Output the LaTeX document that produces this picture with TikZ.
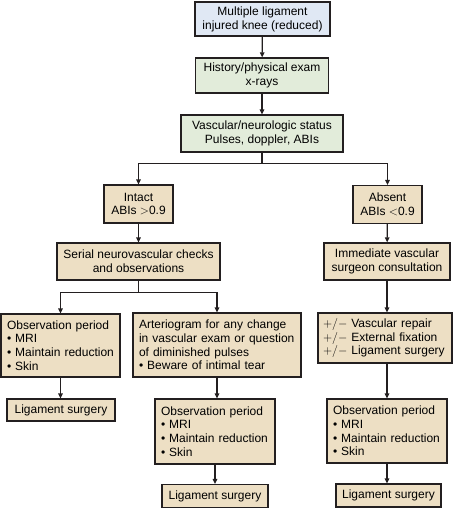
\documentclass[tikz,border=0pt]{standalone}
\usepackage{fontspec}
\setmainfont{Liberation Sans}
\usetikzlibrary{arrows.meta}
\definecolor{boxblue}{RGB}{224,232,244}
\definecolor{boxgreen}{RGB}{226,236,218}
\definecolor{boxtan}{RGB}{237,223,196}
\definecolor{boxline}{RGB}{35,31,32}

\begin{document}
\begin{tikzpicture}[x=1pt, y=-1pt, line width=1.2pt, boxline,
        start node/.style={rectangle, draw=boxline, fill=boxblue, text=black, font=\fontsize{12}{13.8}\selectfont, align=center, inner sep=0pt},
        check node/.style={start node, fill=boxgreen},
        plan node/.style={start node, fill=boxtan},
        list node/.style={plan node, align=left, inner xsep=6pt},
        arrow line/.style={-{Triangle[length=5pt, width=4.5pt]}}]

            \useasboundingbox (0,0) rectangle (455,508);

            \node[start node, minimum width=135, minimum height=34] (1) at (262.5, 19) {Multiple ligament\\injured knee (reduced)};
            \node[check node, minimum width=133, minimum height=35] (2) at (262, 75.5) {History/physical exam\\x-rays};
            \node[check node, minimum width=162, minimum height=37] (3) at (262, 133.5) {Vascular/neurologic status\\Pulses, doppler, ABIs};
            \node[plan node, minimum width=69, minimum height=38] (4) at (138.5, 204) {Intact\\ABIs $>$0.9};
            \node[plan node, minimum width=69, minimum height=38] (5) at (387.5, 204.5) {Absent\\ABIs $<$0.9};
            \node[plan node, minimum width=163, minimum height=37] (6) at (138.5, 261.5) {Serial neurovascular checks\\and observations};
            \node[plan node, minimum width=126, minimum height=37] (7) at (387, 261.5) {Immediate vascular\\surgeon consultation};
            \node[list node, text width=107, minimum height=63] (8) at (60.5, 345.5) {Observation period\\\textbullet\ MRI\\\textbullet\ Maintain reduction\\\textbullet\ Skin};
            \node[list node, text width=156, minimum height=64] (9) at (217, 345) {Arteriogram for any change\\in vascular exam or question\\of diminished pulses\\\textbullet\ Beware of intimal tear};
            \node[list node, inner xsep=5pt, text width=124, minimum height=50] (10) at (385, 338) {$+/-$ Vascular repair\\$+/-$ External fixation\\$+/-$ Ligament surgery};
            \node[list node, text width=108, minimum height=64] (11) at (387, 431) {Observation period\\\textbullet\ MRI\\\textbullet\ Maintain reduction\\\textbullet\ Skin};
            \node[list node, text width=108, minimum height=65] (12) at (215, 431.5) {Observation period\\\textbullet\ MRI\\\textbullet\ Maintain reduction\\\textbullet\ Skin};
            \node[plan node, minimum width=108, minimum height=22] (13) at (61, 410) {Ligament surgery};
            \node[plan node, minimum width=106, minimum height=23] (14) at (215, 496) {Ligament surgery};
            \node[plan node, minimum width=105, minimum height=23] (15) at (388.5, 495.5) {Ligament surgery};

            % Main line down the middle
            \path[arrow line]
                (1) edge (2)
                (2) edge (3);

            % Split on the pulse status
            \draw (3.south) -- ++(0, 11) coordinate (split1);
            \draw[arrow line] (split1) -| (4.north);
            \draw[arrow line] (split1) -| (5.north);

            % Intact side
            \draw[arrow line] (4) -- (6);
            \draw (6.south) -- ++(0, 12) coordinate (split2);
            \draw[arrow line] (split2) -| (8.north);
            \draw[arrow line] (split2) -| (9.north);
            \draw[arrow line] (8) -- (8 |- 13.north);
            \draw[arrow line] (9.south) -- (9.south |- 12.north);
            \draw[arrow line] (12) -- (14);

            % Absent side
            \draw[arrow line] (5) -- (7);
            \draw[arrow line] (7.south) -- (7.south |- 10.north);
            \draw[arrow line] (7.south |- 10.south) -- (7.south |- 11.north);
            \draw[arrow line] (11.south) -- (11.south |- 15.north);

\end{tikzpicture}
\end{document}
